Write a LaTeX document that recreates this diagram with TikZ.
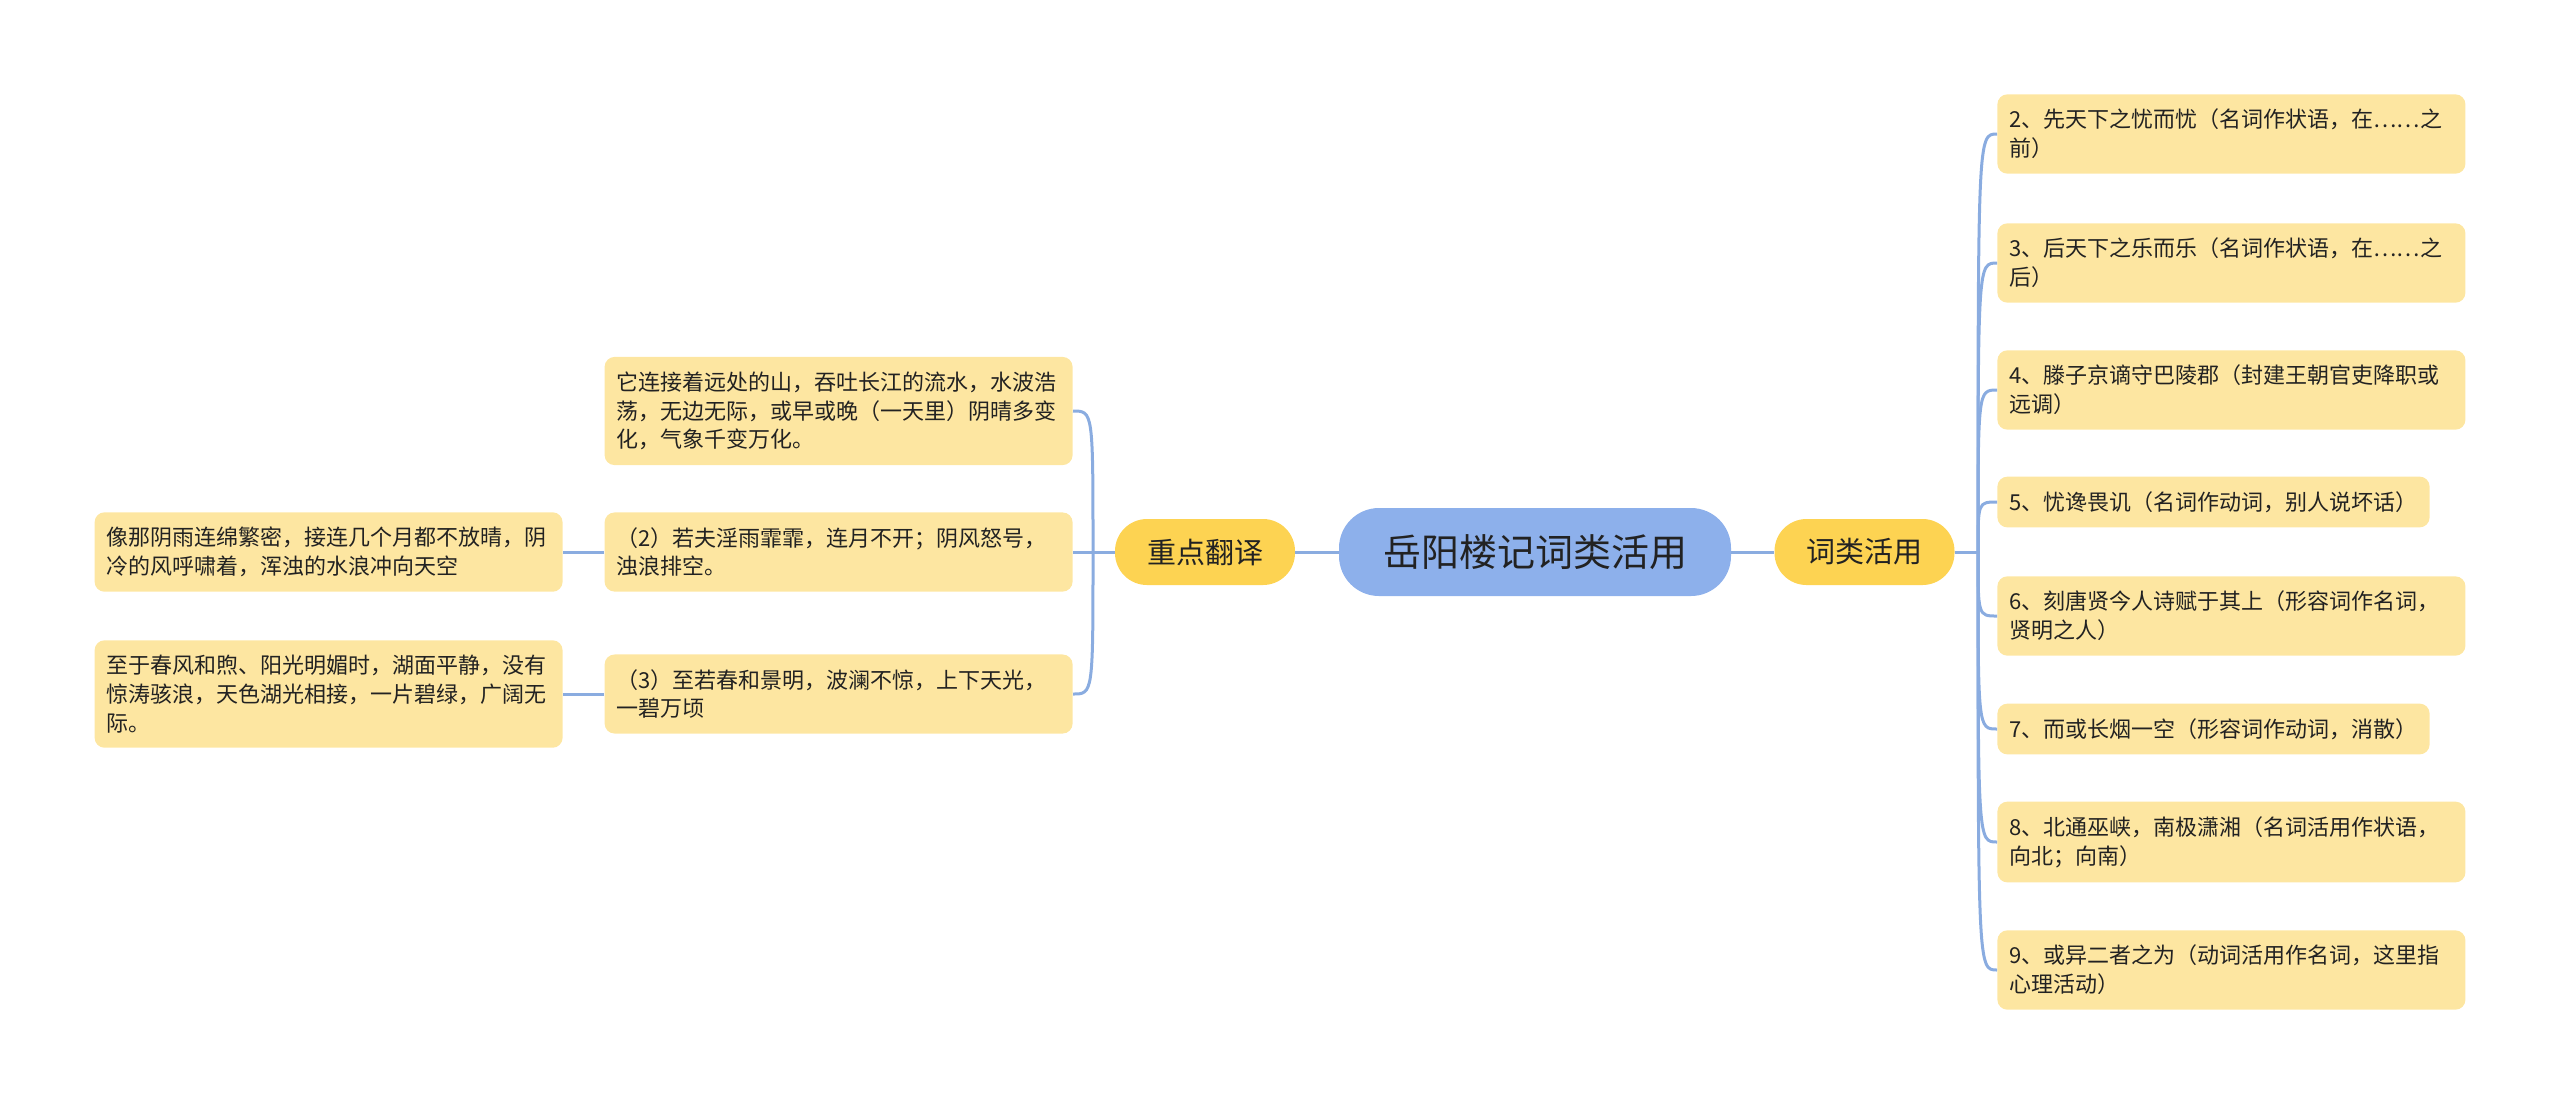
\documentclass[tikz,border=0pt]{standalone}
\usepackage{fontspec}
\setmainfont{Noto Sans CJK SC}
\definecolor{rootblue}{HTML}{8DB0EB}
\definecolor{branchgold}{HTML}{FDD352}
\definecolor{leafcream}{HTML}{FDE6A1}
\definecolor{linkblue}{HTML}{8AACE0}
\definecolor{inktext}{HTML}{222222}

\begin{document}
\begin{tikzpicture}[x=0.5pt,y=-0.5pt,
  root/.style={fill=rootblue,rounded corners=20pt,minimum width=196pt,minimum height=44pt,font=\fontsize{19}{23}\selectfont,text=inktext},
  branch/.style={fill=branchgold,rounded corners=16pt,minimum width=90pt,minimum height=33pt,font=\fontsize{14.5}{17}\selectfont,text=inktext},
  leaf/.style={fill=leafcream,rounded corners=5pt,inner xsep=6pt,inner ysep=7.4pt,align=left,font=\fontsize{11}{14.4}\selectfont,text=inktext},
  wide/.style={leaf,text width=222pt},
  link/.style={draw=linkblue,line width=1.5pt}
]
  \useasboundingbox (0,0) rectangle (2560,1105);
  % centre and the two branches
  \node[root]   (root)  at (1535,552)   {岳阳楼记词类活用};
  \node[branch] (trans) at (1205,552)   {重点翻译};
  \node[branch] (usage) at (1864.5,552) {词类活用};
  % left side
  \node[wide,anchor=east] (t1)  at (1073,411) {它连接着远处的山，吞吐长江的流水，水波浩\\荡，无边无际，或早或晚（一天里）阴晴多变\\化，气象千变万化。};
  \node[wide,anchor=east] (t2)  at (1073,552) {（2）若夫淫雨霏霏，连月不开；阴风怒号，\\浊浪排空。};
  \node[wide,anchor=east] (t3)  at (1073,694) {（3）至若春和景明，波澜不惊，上下天光，\\一碧万顷};
  \node[wide,anchor=east] (t2a) at (563,552)  {像那阴雨连绵繁密，接连几个月都不放晴，阴\\冷的风呼啸着，浑浊的水浪冲向天空};
  \node[wide,anchor=east] (t3a) at (563,694)  {至于春风和煦、阳光明媚时，湖面平静，没有\\惊涛骇浪，天色湖光相接，一片碧绿，广阔无\\际。};
  % right side
  \node[wide,anchor=west] (u2) at (1997,134) {2、先天下之忧而忧（名词作状语，在……之\\前）};
  \node[wide,anchor=west] (u3) at (1997,263) {3、后天下之乐而乐（名词作状语，在……之\\后）};
  \node[wide,anchor=west] (u4) at (1997,390) {4、滕子京谪守巴陵郡（封建王朝官吏降职或\\远调）};
  \node[leaf,anchor=west] (u5) at (1997,502) {5、忧谗畏讥（名词作动词，别人说坏话）};
  \node[wide,anchor=west] (u6) at (1997,616) {6、刻唐贤今人诗赋于其上（形容词作名词，\\贤明之人）};
  \node[leaf,anchor=west] (u7) at (1997,729) {7、而或长烟一空（形容词作动词，消散）};
  \node[wide,anchor=west] (u8) at (1997,842) {8、北通巫峡，南极潇湘（名词活用作状语，\\向北；向南）};
  \node[wide,anchor=west] (u9) at (1997,970) {9、或异二者之为（动词活用作名词，这里指\\心理活动）};
  % connectors
  \draw[link] (trans.east) -- (root.west);
  \draw[link] (root.east) -- (usage.west);
  \coordinate (lfork) at (1093,552);
  \draw[link] (trans.west) -- (t2.east);
  \draw[link] (lfork) .. controls (lfork |- t1.east) .. (t1.east);
  \draw[link] (lfork) .. controls (lfork |- t3.east) .. (t3.east);
  \draw[link] (t2.west) -- (t2a.east);
  \draw[link] (t3.west) -- (t3a.east);
  \coordinate (rfork) at (1978,552);
  \draw[link] (usage.east) -- (rfork);
  \foreach \n in {u2,u3,u4,u5,u6,u7,u8,u9}
    \draw[link] (rfork) .. controls (rfork |- \n.west) .. (\n.west);
\end{tikzpicture}
\end{document}
